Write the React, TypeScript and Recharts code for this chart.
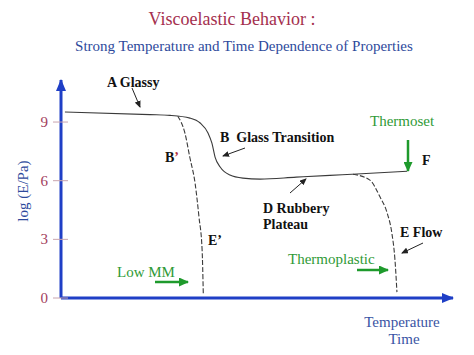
import React from 'react';
import { LineChart, Line, XAxis, YAxis } from 'recharts';

// log modulus vs temperature/time (x in arbitrary 0-100 units)
const mainX = [1, 22.7, 27.8, 32.9, 35.5, 37.5, 38.5, 39.3, 40.6, 43.1, 46.4, 50.8, 60, 68.6, 75.5, 88.3];
const mainY = [9.51, 9.38, 9.34, 9.2, 8.95, 8.44, 7.92, 7.21, 6.7, 6.29, 6.13, 6.08, 6.18, 6.27, 6.34, 6.48];

const lowMMX = [29.8, 31.6, 32.9, 34.2, 35.2, 36.0, 36.3];
const lowMMY = [9.3, 8.44, 7.16, 5.88, 4.14, 2.45, 0.2];

const flowX = [74.5, 78.8, 81.4, 83.2, 84.4, 85.2, 85.7];
const flowY = [6.33, 6.03, 5.16, 4.35, 3.32, 1.94, 0.3];

const yTicks = [0, 3, 6, 9];

const toPoints = (xs: number[], ys: number[]) => xs.map((x, i) => ({ x, y: ys[i] }));

const AXIS_BLUE = '#1f3fc6';
const SERIF = '"Liberation Serif", "Times New Roman", serif';

const YTick = ({ x, y, payload }: any) => (
  <g>
    <line x1={x - 8} x2={x + 7} y1={y} y2={y} stroke="#c9a4ae" strokeWidth={1} />
    <text x={x - 13} y={y} dy={5} textAnchor="end" style={{ fontFamily: SERIF, fontSize: 15 }} fill="#a2405c">
      {payload.value}
    </text>
  </g>
);

const App: React.FC = () => {
  const mainData = toPoints(mainX, mainY);
  const lowMMData = toPoints(lowMMX, lowMMY);
  const flowData = toPoints(flowX, flowY);

  const bold = { fontFamily: SERIF, fontSize: 14, fontWeight: 700 } as React.CSSProperties;
  const green = { fontFamily: SERIF, fontSize: 15 } as React.CSSProperties;

  return (
    <div style={{ position: 'absolute', left: 0, top: 0, width: 474, height: 355, background: '#fff' }}>
      <LineChart width={474} height={355} margin={{ top: 80, right: 21, bottom: 55, left: 1 }}>
        <defs>
          <marker id="axisArrow" markerUnits="userSpaceOnUse" markerWidth={12} markerHeight={10}
            refX={11} refY={5} orient="auto-start-reverse" viewBox="0 0 12 10">
            <path d="M0,0 L12,5 L0,10 Z" fill={AXIS_BLUE} />
          </marker>
        </defs>
        <XAxis type="number" dataKey="x" domain={[0, 100]} allowDataOverflow height={2}
          tick={false} tickLine={false}
          axisLine={{ stroke: AXIS_BLUE, strokeWidth: 3, markerEnd: 'url(#axisArrow)' } as any} />
        <YAxis type="number" dataKey="y" domain={[0, 11.15]} ticks={yTicks} allowDataOverflow width={60}
          tickSize={0} tickMargin={0} tickLine={false} tick={<YTick />}
          axisLine={{ stroke: AXIS_BLUE, strokeWidth: 3, markerStart: 'url(#axisArrow)' } as any} />
        <Line data={mainData} dataKey="y" type="monotone" stroke="#3a3a3a" strokeWidth={1.1}
          dot={false} isAnimationActive={false} />
        <Line data={lowMMData} dataKey="y" type="monotone" stroke="#3a3a3a" strokeWidth={1.1}
          strokeDasharray="5 2" dot={false} isAnimationActive={false} />
        <Line data={flowData} dataKey="y" type="monotone" stroke="#3a3a3a" strokeWidth={1.1}
          strokeDasharray="5 2" dot={false} isAnimationActive={false} />
      </LineChart>

      <svg width={474} height={355} style={{ position: 'absolute', left: 0, top: 0, pointerEvents: 'none' }}>
        <defs>
          <marker id="blackArrow" markerUnits="userSpaceOnUse" markerWidth={7} markerHeight={6}
            refX={6} refY={3} orient="auto" viewBox="0 0 7 6">
            <path d="M0,0 L7,3 L0,6 Z" fill="#222" />
          </marker>
          <marker id="greenArrow" markerUnits="userSpaceOnUse" markerWidth={10} markerHeight={9}
            refX={9} refY={4.5} orient="auto" viewBox="0 0 10 9">
            <path d="M0,0 L10,4.5 L0,9 Z" fill="#1e9a2c" />
          </marker>
        </defs>

        <text x={232} y={25} textAnchor="middle" style={{ fontFamily: SERIF, fontSize: 18 }} fill="#a4304e">
          Viscoelastic Behavior :
        </text>
        <text x={244} y={51} textAnchor="middle" style={{ fontFamily: SERIF, fontSize: 15 }} fill="#2e4a9c">
          Strong Temperature and Time Dependence of Properties
        </text>

        <text transform="translate(28,191) rotate(-90)" textAnchor="middle" style={{ fontFamily: SERIF, fontSize: 15 }} fill="#2e4a9c">
          log (E/Pa)
        </text>

        <g fill="#111">
          <text x={107} y={87} style={bold}>A Glassy</text>
          <text x={165} y={162} style={bold}>B<tspan fill="#b03040">’</tspan></text>
          <text x={220} y={142} style={{ ...bold, whiteSpace: 'pre' }}>B  Glass Transition</text>
          <text x={422} y={165} style={bold}>F</text>
          <text x={263} y={213} style={bold}>D Rubbery</text>
          <text x={263} y={229} style={bold}>Plateau</text>
          <text x={400} y={237} style={bold}>E Flow</text>
          <text x={208} y={245} style={bold}>E’</text>
        </g>

        <g stroke="#222" strokeWidth={1}>
          <line x1={132} y1={88} x2={140} y2={107} markerEnd="url(#blackArrow)" />
          <line x1={245} y1={148} x2={223} y2={156} markerEnd="url(#blackArrow)" />
          <line x1={290} y1={193} x2={306} y2={179} markerEnd="url(#blackArrow)" />
          <line x1={423} y1={243} x2={402} y2={253} markerEnd="url(#blackArrow)" />
        </g>

        <g fill="#2f9a36">
          <text x={370} y={126} style={green}>Thermoset</text>
          <text x={288} y={264} style={green}>Thermoplastic</text>
          <text x={117} y={277} style={green}>Low MM</text>
        </g>
        <g stroke="#1e9a2c" strokeWidth={2.5}>
          <line x1={408} y1={140} x2={408} y2={171} markerEnd="url(#greenArrow)" />
          <line x1={357} y1={270} x2={388} y2={270} markerEnd="url(#greenArrow)" />
          <line x1={155} y1={282} x2={188} y2={282} markerEnd="url(#greenArrow)" />
        </g>

        <g fill="#3a54a4" textAnchor="middle">
          <text x={402} y={327} style={green}>Temperature</text>
          <text x={404} y={344} style={green}>Time</text>
        </g>
      </svg>
    </div>
  );
};

export default App;
